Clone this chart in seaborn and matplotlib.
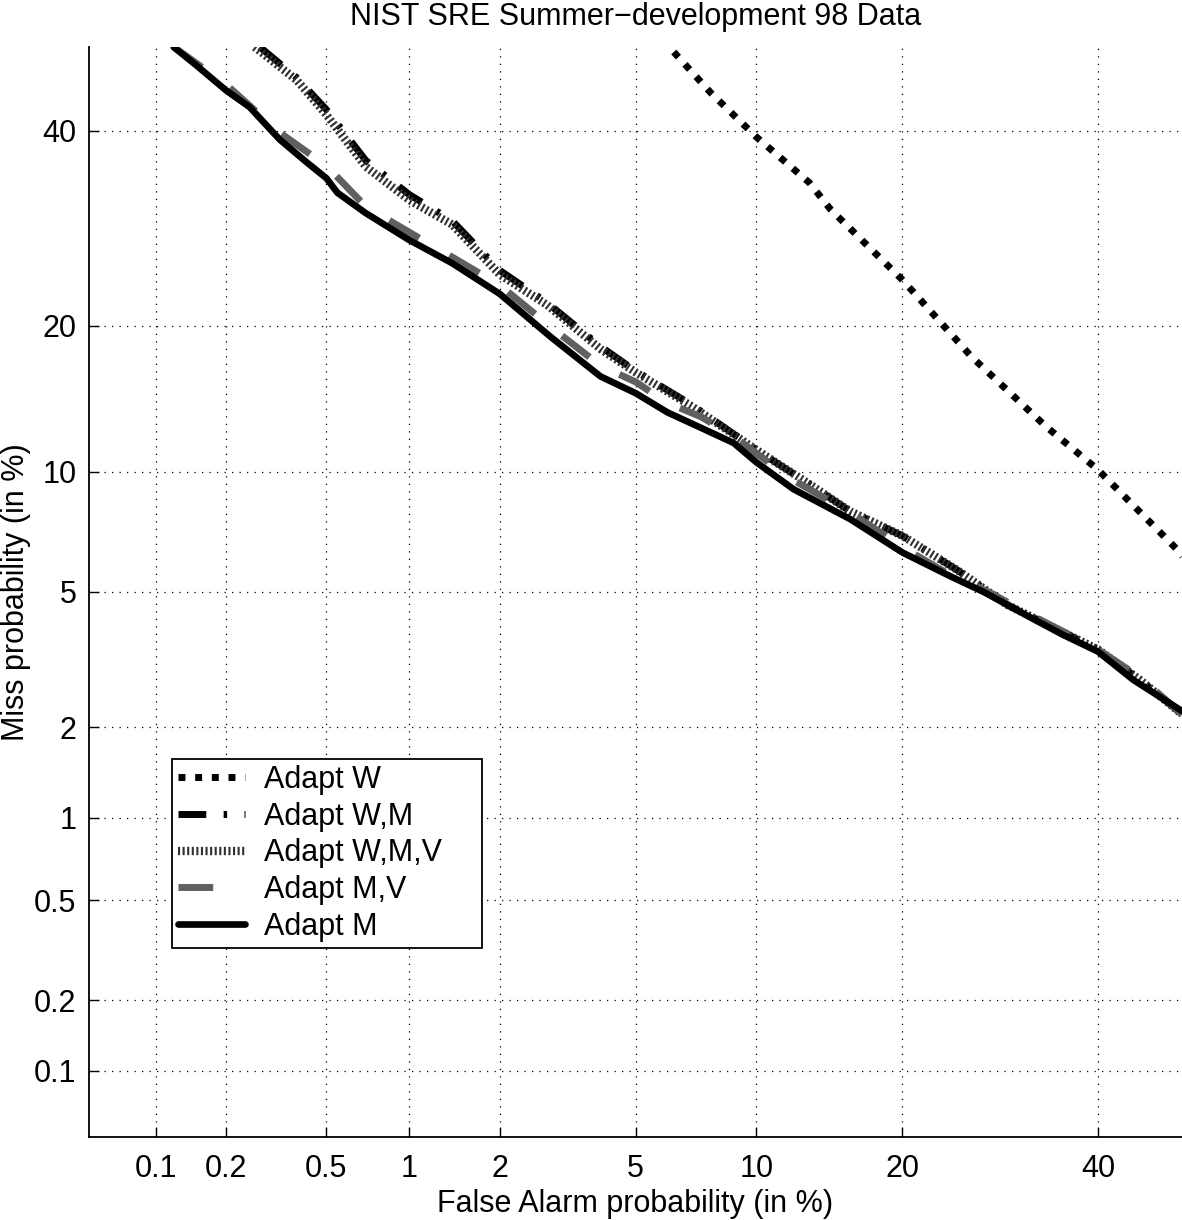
import numpy as np
import pandas as pd
import seaborn as sns
import matplotlib
matplotlib.use('Agg')
import matplotlib.pyplot as plt
from matplotlib.ticker import FixedLocator, NullLocator
from statistics import NormalDist

# values in %
fa_w = [6.3, 7.8, 10, 13.1, 14.5, 20, 26.3, 34.1, 40, 49.3, 50]
miss_w = [49.4, 44.5, 39.3, 34.1, 31.2, 24.1, 17.5, 12.6, 10.1, 6.5, 6.2]

fa_wmv = [0.262, 0.385, 0.5, 0.7, 1.0, 1.4, 2.0, 2.8, 4.0, 5.0, 7.0, 10, 13, 15.9, 20, 25, 30, 40, 45, 50]
miss_wmv = [50, 46.0, 41.9, 35.9, 32.2, 29.6, 24.6, 21.8, 18.1, 16.3, 13.9, 11.2, 9.4, 8.05, 7.0, 5.7, 4.6, 3.45, 2.8, 2.2]

fa_wm = [0.275, 0.385, 0.5, 0.7, 1.0, 1.4, 2.0, 2.8, 4.0, 5.0, 7.0, 10, 13, 15.9, 20, 25, 30, 40, 45, 50]
miss_wm = [50, 46.3, 42.5, 36.6, 32.8, 30.0, 25.0, 22.0, 18.3, 16.4, 14.0, 11.2, 9.4, 8.05, 7.0, 5.7, 4.6, 3.45, 2.8, 2.2]

fa_mv = [0.12, 0.2, 0.33, 0.5, 0.7, 1.0, 1.4, 2.0, 2.9, 4.0, 5.0, 6.0, 7.4, 8.85, 10, 12, 15.9, 20, 24, 28, 33, 40, 45, 50]
miss_mv = [50, 45.5, 39.8, 36.0, 31.5, 28.8, 26.3, 23.6, 19.8, 16.8, 15.6, 14.2, 13.2, 12.0, 11.0, 9.6, 8.0, 6.55, 5.6, 5.0, 4.25, 3.45, 2.85, 2.2]

fa_m = [0.12, 0.15, 0.2, 0.25, 0.33, 0.42, 0.5, 0.55, 0.7, 1.0, 1.4, 2.0, 2.86, 4.0, 5.0, 6.07, 7.4, 8.85, 10,
        12.1, 15.9, 20, 24.3, 27.5, 32.8, 36, 40, 44.2, 50]
miss_m = [50, 47.8, 44.8, 42.8, 39, 36.4, 34.6, 33.0, 30.8, 28.0, 25.7, 22.8, 19.1, 16.0, 14.8, 13.5, 12.5, 11.6, 10.5,
          9.1, 7.7, 6.35, 5.5, 5.0, 4.2, 3.8, 3.4, 2.8, 2.25]

tick_vals = [0.1, 0.2, 0.5, 1, 2, 5, 10, 20, 40]
tick_labels = ['0.1', '0.2', '0.5', '1', '2', '5', '10', '20', '40']

_nd = NormalDist()
_ppf = np.vectorize(_nd.inv_cdf, otypes=[float])
_cdf = np.vectorize(_nd.cdf, otypes=[float])


def probit(p):
    p = np.clip(np.asarray(p, dtype=float) / 100.0, 1e-9, 1 - 1e-9)
    return _ppf(p)


def inv_probit(z):
    return _cdf(np.asarray(z, dtype=float)) * 100.0


sns.set_style("white")
plt.rcParams['font.family'] = ['Liberation Sans', 'DejaVu Sans']
plt.rcParams['text.color'] = 'black'
plt.rcParams['axes.labelcolor'] = 'black'
fs = 22

fig = plt.figure(figsize=(11.82, 12.2), dpi=100)
ax = fig.add_axes([89 / 1182, 1 - 1137 / 1220, (1182 - 89) / 1182, (1137 - 47) / 1220])

series = [
    ('Adapt W', fa_w, miss_w, dict(color='black', lw=5, dashes=(1, 1.4))),
    ('Adapt W,M', fa_wm, miss_wm, dict(color='black', lw=5, dashes=(4, 2.5, 0.5, 2.5))),
    ('Adapt W,M,V', fa_wmv, miss_wmv, dict(color='#303030', lw=6, dashes=(0.25, 0.3))),
    ('Adapt M,V', fa_mv, miss_mv, dict(color='#606060', lw=5, dashes=(5, 5))),
    ('Adapt M', fa_m, miss_m, dict(color='black', lw=4.8)),
]

for name, fa, miss, style in series:
    df = pd.DataFrame({'fa': fa, 'miss': miss})
    dashes = style.pop('dashes', None)
    sns.lineplot(data=df, x='fa', y='miss', estimator=None, sort=False, ax=ax, label=name, **style)
    l = ax.get_lines()[-1]
    if dashes is not None:
        l.set_dashes(dashes)
    l.set_dash_capstyle('butt')

ax.set_xscale('function', functions=(probit, inv_probit))
ax.set_yscale('function', functions=(probit, inv_probit))
ax.set_xlim(0.05, 50)
ax.set_ylim(0.05, 50)
for axis in (ax.xaxis, ax.yaxis):
    axis.set_major_locator(FixedLocator(tick_vals))
    axis.set_minor_locator(NullLocator())
ax.set_xticklabels(tick_labels)
ax.set_yticklabels(tick_labels)

ax.grid(True, color='black', lw=0.9, dashes=(1, 5))
ax.tick_params(direction='in', length=7, width=1, labelsize=fs, colors='black', bottom=True, left=True)
ax.tick_params(axis='x', pad=12)
ax.tick_params(axis='y', pad=9)
for side in ('top', 'right'):
    ax.spines[side].set_visible(False)
for side in ('bottom', 'left'):
    ax.spines[side].set_color('black')
    ax.spines[side].set_linewidth(1.3)

ax.set_xlabel('False Alarm probability (in %)', fontsize=fs, labelpad=4)
ax.set_ylabel('Miss probability (in %)', fontsize=fs, labelpad=2)
ax.set_title('NIST SRE Summer\u2212development 98 Data', fontsize=fs, pad=16)

x0 = (172 - 89) / 1093
y0 = (1137 - 948) / 1090
leg = ax.legend(loc='lower left', bbox_to_anchor=(x0, y0, (482 - 172) / 1093, 0.1), mode='expand',
                borderaxespad=0, fontsize=fs, frameon=True, fancybox=False, framealpha=1, edgecolor='black',
                handlelength=2.2, labelspacing=0.22, handletextpad=0.6, borderpad=0.2)
leg.get_frame().set_linewidth(1.3)

fig.savefig('out.png', dpi=100)
